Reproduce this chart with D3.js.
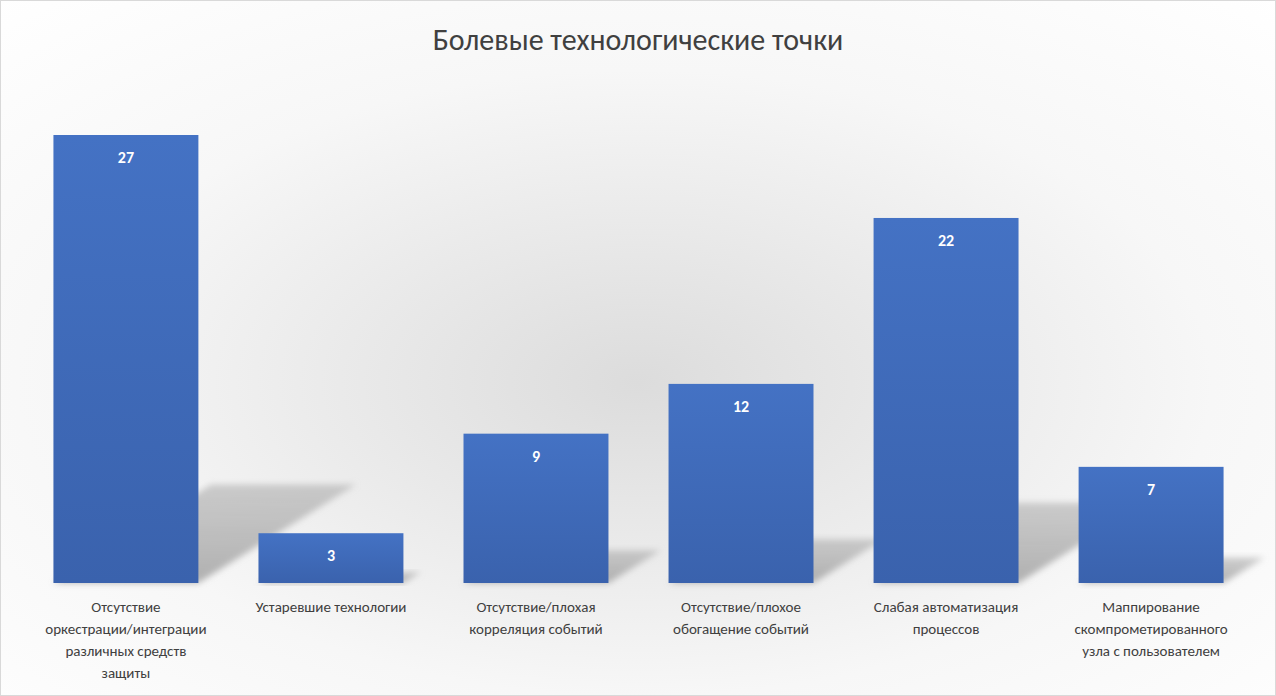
<!DOCTYPE html>
<html><head><meta charset="utf-8">
<script src="https://cdn.jsdelivr.net/npm/d3@7"></script>
<style>body{margin:0;overflow:hidden}svg{display:block;font-family:Calibri,Carlito,"Open Sans",sans-serif}</style>
</head><body><svg id="c" width="1276" height="696"></svg>
<script>
// chart data
var categories = [
  ['Отсутствие', 'оркестрации/интеграции', 'различных средств', 'защиты'],
  ['Устаревшие технологии'],
  ['Отсутствие/плохая', 'корреляция событий'],
  ['Отсутствие/плохое', 'обогащение событий'],
  ['Слабая автоматизация', 'процессов'],
  ['Маппирование', 'скомпрометированного', 'узла с пользователем']
];
var values = [27, 3, 9, 12, 22, 7];

var W = 1276, H = 696, base = 583;
var svg = d3.select('#c');
var defs = svg.append('defs');

//background radial gradient
var bg = defs.append('radialGradient').attr('id', 'bg')
  .attr('cx', '50%').attr('cy', '55%').attr('r', '75%');
bg.append('stop').attr('offset', '0%').attr('stop-color', '#dcdcdc');
bg.append('stop').attr('offset', '60%').attr('stop-color', '#f7f7f7');
bg.append('stop').attr('offset', '100%').attr('stop-color', '#ffffff');

var bar = defs.append('linearGradient').attr('id', 'bar').attr('x1', 0).attr('y1', 0).attr('x2', 0).attr('y2', 1);
bar.append('stop').attr('offset', '0%').attr('stop-color', '#4472c4');
bar.append('stop').attr('offset', '100%').attr('stop-color', '#3a62ad');

var sh = defs.append('linearGradient').attr('id', 'sh').attr('x1', 0).attr('y1', 1).attr('x2', 0).attr('y2', 0);
sh.append('stop').attr('offset', '0%').attr('stop-color', '#999').attr('stop-opacity', 0.75);
sh.append('stop').attr('offset', '100%').attr('stop-color', '#aaa').attr('stop-opacity', 0.55);
defs.append('filter').attr('id', 'blur').attr('x', '-20%').attr('y', '-20%').attr('width', '140%').attr('height', '140%')
  .append('feGaussianBlur').attr('stdDeviation', 3);

svg.append('rect').attr('width', W).attr('height', H).attr('fill', 'url(#bg)');
svg.append('rect').attr('x', 0.5).attr('y', 0.5).attr('width', W - 1).attr('height', H - 1)
  .attr('fill', 'none').attr('stroke', '#d9d9d9');

var x = d3.scaleBand().domain(d3.range(values.length)).range([23.5, 1253.5]).paddingInner(0.293).paddingOuter(0.146);
var y = d3.scaleLinear().domain([0, 27]).range([base, 135]);

//shadows
svg.append('g').selectAll('path').data(values).enter().append('path')
  .attr('fill', 'url(#sh)').attr('filter', 'url(#blur)')
  .attr('d', function (d, i) {
    var x0 = x(i), x1 = x0 + x.bandwidth(), h = (base - y(d)) * 0.22, dx = h * 1.6;
    return 'M' + x0 + ',' + base + 'L' + x1 + ',' + base + 'L' + (x1 + dx) + ',' + (base - h) + 'L' + (x0 + dx) + ',' + (base - h) + 'Z';
  });

svg.append('g').selectAll('rect').data(values).enter().append('rect')
  .attr('x', function (d, i) { return x(i); })
  .attr('y', function (d) { return y(d); })
  .attr('width', x.bandwidth())
  .attr('height', function (d) { return base - y(d); })
  .attr('fill', 'url(#bar)');

svg.append('g').selectAll('text').data(values).enter().append('text')
  .attr('x', function (d, i) { return x(i) + x.bandwidth() / 2; })
  .attr('y', function (d) { return y(d) + 28; })
  .attr('text-anchor', 'middle').attr('fill', '#fff').attr('font-weight', 'bold').attr('font-size', 16)
  .text(function (d) { return d; });

//category labels
var lab = svg.append('g').selectAll('text').data(categories).enter().append('text')
  .attr('text-anchor', 'middle').attr('fill', '#404040').attr('font-size', 15)
  .attr('x', function (d, i) { return x(i) + x.bandwidth() / 2; })
  .attr('y', 612);
lab.selectAll('tspan').data(function (d) { return d; }).enter().append('tspan')
  .attr('x', function () { return this.parentNode.getAttribute('x'); })
  .attr('dy', function (d, j) { return j ? 22 : 0; })
  .text(function (d) { return d; });

svg.append('text').attr('x', W / 2).attr('y', 50).attr('text-anchor', 'middle')
  .attr('fill', '#404040').attr('font-size', 30).text('Болевые технологические точки');
</script></body></html>
